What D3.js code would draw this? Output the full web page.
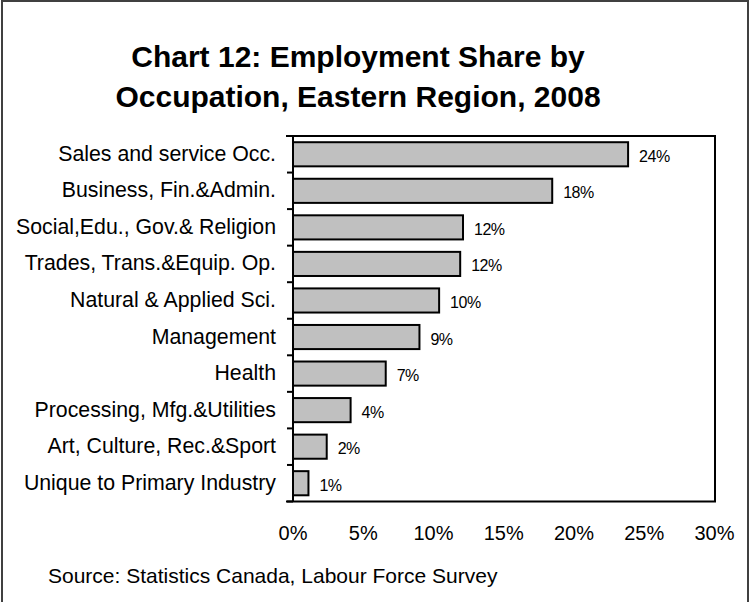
<html>
<head>
<script src="https://d3js.org/d3.v7.min.js"></script>
<style>
  body { margin: 0; background: #fff; }
  text { font-family: Arial, "Liberation Sans", sans-serif; fill: #000; }
</style>
</head>
<body>
<svg width="752" height="602"></svg>
<script>
// chart data
const occupations = ["Sales and service Occ.", "Business, Fin.&Admin.", "Social,Edu., Gov.& Religion",
                     "Trades, Trans.&Equip. Op.", "Natural & Applied Sci.", "Management", "Health",
                     "Processing, Mfg.&Utilities", "Art, Culture, Rec.&Sport", "Unique to Primary Industry"];
const shares = [23.85, 18.45, 12.1, 11.9, 10.4, 9.0, 6.6, 4.1, 2.4, 1.1];
const xTicks = [0, 5, 10, 15, 20, 25, 30];
const titleLines = ["Chart 12: Employment Share by", "Occupation, Eastern Region, 2008"];
const source = "Source: Statistics Canada, Labour Force Survey";

const svg = d3.select("svg");

// outer chart border
svg.append("rect").attr("x", 2).attr("y", 1).attr("width", 746).attr("height", 640)
   .attr("fill", "#fff").attr("stroke", "#404040").attr("stroke-width", 2);

svg.append("text").attr("x", 358).attr("text-anchor", "middle")
   .style("font-size", "30px").style("font-weight", "bold")
   .selectAll("tspan").data(titleLines).join("tspan")
   .attr("x", 358).attr("y", (d, i) => 67 + i * 40).text(d => d);

const plotL = 293, plotR = 714.5, plotT = 136, plotB = 501.5;

var x = d3.scaleLinear().domain([0, 30]).range([plotL, plotR]);
var y = d3.scaleBand().domain(occupations).range([plotT, plotB]).paddingInner(0.34).paddingOuter(0.17);

// plot area frame (top, right, bottom)
svg.append("path").attr("fill", "none").attr("stroke", "#000").attr("stroke-width", 2)
   .attr("d", `M286,${plotT}H715V${plotB}H286`);

// bars
svg.append("g").selectAll("rect").data(shares).join("rect")
   .attr("x", x(0)).attr("y", (d, i) => y(occupations[i]))
   .attr("width", d => x(d) - x(0)).attr("height", y.bandwidth())
   .attr("fill", "#c0c0c0").attr("stroke", "#000").attr("stroke-width", 2);

// value labels
svg.append("g").selectAll("text").data(shares).join("text")
   .attr("x", d => x(d) + 11).attr("y", (d, i) => y(occupations[i]) + y.bandwidth() / 2 + 7.5)
   .style("font-size", "16px").style("letter-spacing", "-0.5px")
   .text(d => Math.round(d) + "%");

// category axis: line, ticks between bands, labels
const yAxis = svg.append("g");
yAxis.append("line").attr("x1", plotL).attr("x2", plotL).attr("y1", plotT).attr("y2", plotB)
     .attr("stroke", "#000").attr("stroke-width", 2);
yAxis.selectAll("line.tick").data(d3.range(occupations.length + 1)).join("line")
     .attr("class", "tick")
     .attr("x1", plotL - 6).attr("x2", plotL)
     .attr("y1", i => plotT + i * y.step()).attr("y2", i => plotT + i * y.step())
     .attr("stroke", "#000").attr("stroke-width", 2);
yAxis.selectAll("text").data(occupations).join("text")
     .attr("x", 276).attr("y", d => y(d) + y.bandwidth() / 2 + 6.5)
     .attr("text-anchor", "end").style("font-size", "21.3px")
     .text(d => d);

// value axis labels
svg.append("g").selectAll("text").data(xTicks).join("text")
   .attr("x", d => x(d)).attr("y", 540).attr("text-anchor", "middle")
   .style("font-size", "20px").text(d => d + "%");

svg.append("text").attr("x", 48).attr("y", 583).style("font-size", "21px").text(source);
</script>
</body>
</html>
